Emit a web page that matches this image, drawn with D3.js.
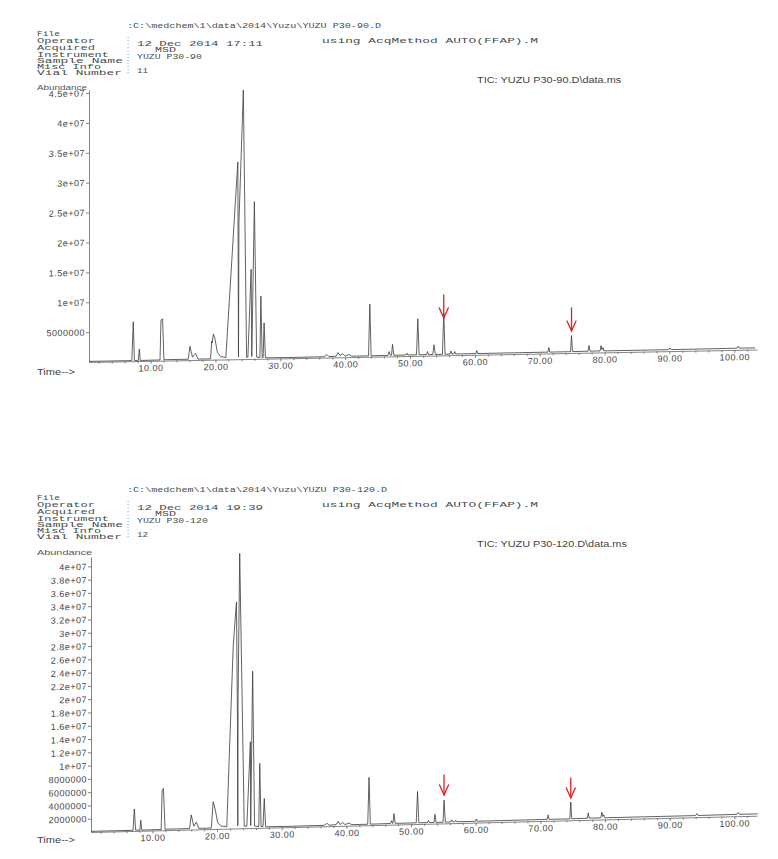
<!DOCTYPE html>
<html><head><meta charset="utf-8">
<script src="https://cdn.jsdelivr.net/npm/d3@7"></script>
<style>body{margin:0;background:#fff}svg{display:block}</style>
</head><body><svg id="c" width="778" height="859"></svg>
<script>
// ---------------- DATA ----------------
const headerLabels = ["File", "Operator", "Acquired", "Instrument", "Sample Name", "Misc Info", "Vial Number"];
const fileTop = ":C:\\medchem\\1\\data\\2014\\Yuzu\\YUZU P30-90.D";
const fileBottom = ":C:\\medchem\\1\\data\\2014\\Yuzu\\YUZU P30-120.D";
const acquiredTop = "12 Dec 2014  17:11";
const acquiredBottom = "12 Dec 2014  19:39";
const methodText = "using AcqMethod AUTO(FFAP).M";
const instrumentText = "MSD";
const sampleTop = "YUZU P30-90";
const sampleBottom = "YUZU P30-120";
const vialTop = "11";
const vialBottom = "12";
const ticTop = "TIC: YUZU P30-90.D\\data.ms";
const ticBottom = "TIC: YUZU P30-120.D\\data.ms";

const timeTicks = [10, 20, 30, 40, 50, 60, 70, 80, 90, 100];
const timeTickLabels = ["10.00", "20.00", "30.00", "40.00", "50.00", "60.00", "70.00", "80.00", "90.00", "100.00"];
const timeMinorTicks = [2,4,6,8,12,14,16,18,22,24,26,28,32,34,36,38,42,44,46,48,52,54,56,58,62,64,66,68,72,74,76,78,82,84,86,88,92,94,96,98,102];

const abundTicksTop = [5e6, 1e7, 1.5e7, 2e7, 2.5e7, 3e7, 3.5e7, 4e7, 4.5e7];
const abundLabelsTop = ["5000000", "1e+07", "1.5e+07", "2e+07", "2.5e+07", "3e+07", "3.5e+07", "4e+07", "4.5e+07"];
const abundTicksBottom = [2e6,4e6,6e6,8e6,1e7,1.2e7,1.4e7,1.6e7,1.8e7,2e7,2.2e7,2.4e7,2.6e7,2.8e7,3e7,3.2e7,3.4e7,3.6e7,3.8e7,4e7];
const abundLabelsBottom = ["2000000","4000000","6000000","8000000","1e+07","1.2e+07","1.4e+07","1.6e+07","1.8e+07","2e+07","2.2e+07","2.4e+07","2.6e+07","2.8e+07","3e+07","3.2e+07","3.4e+07","3.6e+07","3.8e+07","4e+07"];

// TIC trace, [retention time (min), abundance]
const traceTop = [
 [0.5,0.1e6],[7.1,0.1e6],[7.33,6.6e6],[7.5,0.12e6],
 [8.1,0.1e6],[8.26,2.0e6],[8.4,0.1e6],
 [11.45,0.12e6],[11.6,6.8e6],[11.85,7.0e6],[12.05,0.15e6],
 [15.8,0.15e6],[16.07,2.3e6],[16.45,0.5e6],[16.95,1.1e6],[17.3,0.15e6],
 [19.25,0.15e6],[19.42,3.1e6],[19.5,2.8e6],[19.67,4.3e6],[19.9,3.6e6],[20.3,1.2e6],[20.8,0.5e6],[21.3,0.4e6],
 [21.6,0.3e6],[23.45,3.3e7],[23.55,0.4e6],[23.62,2.3e7],[24.3,4.5e7],[24.8,0.3e6],
 [25.0,0.3e6],[25.5,1.5e7],[25.6,0.4e6],[26.0,2.63e7],[26.35,0.3e6],
 [26.85,0.2e6],[27.0,1.05e7],[27.2,0.2e6],[27.35,0.2e6],[27.5,6.0e6],[27.7,0.15e6],
 [31,0.12e6],[36.8,0.15e6],[37.2,0.5e6],[37.5,0.15e6],[38.6,0.2e6],[38.9,0.8e6],[39.2,0.3e6],[39.6,0.6e6],[40.0,0.2e6],[40.6,0.45e6],[41.0,0.15e6],
 [43.6,0.15e6],[43.8,8.8e6],[44.0,0.15e6],
 [46.6,0.18e6],[46.8,0.8e6],[46.95,0.2e6],[47.15,0.2e6],[47.3,2.0e6],[47.5,0.18e6],
 [49.35,0.18e6],[49.5,0.5e6],[49.65,0.18e6],
 [51.0,0.18e6],[51.2,6.2e6],[51.4,0.18e6],
 [52.55,0.18e6],[52.7,0.7e6],[52.85,0.18e6],
 [53.5,0.18e6],[53.7,1.8e6],[53.9,0.18e6],
 [55.0,0.18e6],[55.2,7.0e6],[55.4,0.18e6],
 [56.15,0.2e6],[56.3,0.7e6],[56.45,0.2e6],[56.75,0.2e6],[56.9,0.6e6],[57.05,0.2e6],
 [60.15,0.2e6],[60.3,0.7e6],[60.45,0.2e6],
 [71.25,0.22e6],[71.4,1.0e6],[71.55,0.22e6],
 [74.75,0.22e6],[74.9,2.9e6],[75.05,0.22e6],
 [77.45,0.25e6],[77.6,1.2e6],[77.75,0.25e6],
 [79.3,0.25e6],[79.45,1.15e6],[79.6,0.45e6],[79.75,0.8e6],[79.9,0.25e6],
 [89.9,0.25e6],[90.1,0.55e6],[90.3,0.25e6],
 [100.4,0.28e6],[100.6,0.6e6],[100.8,0.28e6],
 [103.2,0.28e6]
];
const traceBottom = [
 [0.5,0.1e6],[7.0,0.1e6],[7.2,3.3e6],[7.4,0.12e6],
 [8.05,0.1e6],[8.2,1.6e6],[8.35,0.1e6],
 [11.35,0.12e6],[11.5,6.0e6],[11.7,6.3e6],[11.95,0.15e6],
 [15.75,0.15e6],[16.0,2.2e6],[16.4,0.5e6],[16.8,1.1e6],[17.15,0.15e6],
 [19.1,0.15e6],[19.4,4.1e6],[19.7,3.0e6],[20.1,0.9e6],[20.7,0.4e6],
 [21.5,0.3e6],[22.5,2.76e7],[23.0,3.41e7],[23.15,1.6e7],[23.2,0.4e6],[23.25,2.0e7],[23.5,4.14e7],[24.2,0.3e6],
 [24.6,0.3e6],[25.15,1.3e7],[25.2,0.4e6],[25.5,2.36e7],[25.8,0.3e6],
 [26.45,0.2e6],[26.6,9.7e6],[26.8,0.2e6],[27.1,0.2e6],[27.3,4.4e6],[27.5,0.15e6],
 [31,0.12e6],[36.6,0.15e6],[37.0,0.45e6],[37.3,0.15e6],[38.4,0.2e6],[38.7,0.7e6],[39.0,0.2e6],[39.4,0.5e6],[39.8,0.18e6],[40.4,0.4e6],[40.8,0.15e6],
 [43.3,0.15e6],[43.5,7.2e6],[43.7,0.15e6],
 [46.8,0.18e6],[47.0,0.6e6],[47.1,0.2e6],[47.2,0.2e6],[47.35,1.65e6],[47.55,0.18e6],
 [50.8,0.18e6],[51.0,4.9e6],[51.2,0.18e6],
 [52.55,0.18e6],[52.7,0.5e6],[52.85,0.18e6],
 [53.55,0.18e6],[53.7,1.4e6],[53.85,0.18e6],
 [54.95,0.18e6],[55.1,3.5e6],[55.3,0.18e6],
 [56.15,0.2e6],[56.3,0.5e6],[56.45,0.2e6],[56.75,0.2e6],[56.9,0.45e6],[57.05,0.2e6],
 [59.95,0.2e6],[60.1,0.55e6],[60.25,0.2e6],
 [71.05,0.22e6],[71.2,0.9e6],[71.35,0.22e6],
 [74.55,0.22e6],[74.7,2.75e6],[74.85,0.22e6],
 [77.25,0.25e6],[77.4,1.05e6],[77.55,0.25e6],
 [79.35,0.25e6],[79.5,1.1e6],[79.65,0.45e6],[79.8,0.7e6],[79.95,0.25e6],
 [94.0,0.25e6],[94.2,0.55e6],[94.4,0.25e6],
 [100.4,0.28e6],[100.6,0.55e6],[100.8,0.28e6],
 [103.6,0.28e6]
];
// red arrows: [time, abundance at arrow tip]
const arrowsTop = [[55.2, 6.26e6], [74.9, 3.68e6]];
const arrowsBottom = [[55.1, 4.28e6], [74.7, 3.36e6]];

// ---------------- DRAWING ----------------
const svg = d3.select("#c");
const MONO = "'Liberation Mono','DejaVu Sans Mono',monospace";
const SANS = "'Liberation Sans',Arial,sans-serif";
const INK = "#4a4a4a";

function txt(g, x, y, s, len, font, size, fill) {
  const t = g.append("text").attr("x", x).attr("y", y).attr("dy", "0.35em")
    .attr("font-family", font).attr("font-size", size).attr("fill", fill || INK).text(s);
  if (len) t.attr("textLength", len).attr("lengthAdjust", "spacingAndGlyphs");
  return t;
}

function header(oy, file, acquired, sample, vial, tic) {
  const g = svg.append("g");
  const ly = [33, 40, 47, 54, 60, 66, 72];
  const lw = [23, 58, 58, 72, 86, 64, 85];
  headerLabels.forEach((s, i) => txt(g, 37, ly[i] + oy, s, lw[i], MONO, 7.2));
  [1, 2, 3, 4, 5, 6].forEach(i => txt(g, 126, ly[i] + oy - 1, ":", 4, MONO, 7, "#888"));
  txt(g, 127, 25 + oy, file, file.length * 6.05, MONO, 8);
  txt(g, 137, 43 + oy, acquired, acquired.length * 7.0, MONO, 7.5);
  txt(g, 322, 40 + oy, methodText, 216, MONO, 8);
  txt(g, 155, 50 + oy, instrumentText, 21, MONO, 6.5);
  txt(g, 137, 56.5 + oy, sample, sample.length * 5.9, MONO, 7);
  txt(g, 137, 70 + oy, vial, 11, MONO, 7.5);
  txt(g, 477, 80 + oy, tic, tic.length * 5.55, SANS, 8.5, "#444");
}

function panel(cfg) {
  const x = d3.scaleLinear().domain([0.5, cfg.tEnd]).range([cfg.x0, cfg.x1]);
  const y = d3.scaleLinear().domain([0, cfg.vTop]).range([cfg.yBase, cfg.yTop]);
  const slope = Math.tan(-cfg.skew * Math.PI / 180); // screen rise per px to the right

  txt(svg, 37, cfg.abundY, "Abundance", cfg.abundLen, SANS, 6.5, "#555");
  txt(svg, 37, cfg.timeY, "Time-->", 38, SANS, 8.5, "#444");

  const g = svg.append("g")
    .attr("transform", `translate(${cfg.x0},${cfg.yBase}) skewY(${cfg.skew}) translate(${-cfg.x0},${-cfg.yBase})`);

  const ya = g.append("g").attr("transform", `translate(${cfg.x0},0)`)
    .call(d3.axisLeft(y).tickValues(cfg.yTicks).tickFormat((d, i) => cfg.yLabels[i])
      .tickSize(3).tickSizeOuter(0).tickPadding(1));
  const xa = g.append("g").attr("transform", `translate(0,${cfg.yBase})`)
    .call(d3.axisBottom(x).tickValues(timeTicks).tickFormat((d, i) => timeTickLabels[i])
      .tickSize(3).tickSizeOuter(0).tickPadding(1));
  const xm = g.append("g").attr("transform", `translate(0,${cfg.yBase})`)
    .call(d3.axisBottom(x).tickValues(timeMinorTicks).tickFormat("").tickSize(2).tickSizeOuter(0));
  xm.select(".domain").remove();
  [ya, xa, xm].forEach(a => {
    a.selectAll("path,line").attr("stroke", "#666").attr("stroke-width", 0.8);
    a.selectAll("text").attr("font-family", SANS).attr("font-size", 9)
      .attr("letter-spacing", 0.5).attr("fill", "#444");
  });

  g.append("path").datum(cfg.trace)
    .attr("d", d3.line().x(d => x(d[0])).y(d => y(d[1])))
    .attr("fill", "none").attr("stroke", "#3c3c3c").attr("stroke-width", 0.8)
    .attr("stroke-linejoin", "round");

  // red arrows (added on top of the scan, not skewed)
  cfg.arrows.forEach(a => {
    const ax = x(a[0]);
    const ty = y(a[1]) - (ax - cfg.x0) * slope;
    const ag = svg.append("g").attr("stroke", "#e02020").attr("stroke-width", 1.3)
      .attr("fill", "none").attr("stroke-linecap", "round");
    ag.append("line").attr("x1", ax).attr("x2", ax).attr("y1", ty - cfg.arrowLen).attr("y2", ty);
    ag.append("polyline").attr("points", `${ax - 4.5},${ty - 10} ${ax},${ty} ${ax + 4.5},${ty - 10}`);
  });
}

header(0, fileTop, acquiredTop, sampleTop, vialTop, ticTop);
header(464, fileBottom, acquiredBottom, sampleBottom, vialBottom, ticBottom);

panel({x0: 89, x1: 757, tEnd: 103.5, yBase: 362, yTop: 90, vTop: 4.55e7, skew: -1.07,
  yTicks: abundTicksTop, yLabels: abundLabelsTop, trace: traceTop, arrows: arrowsTop,
  abundY: 87.5, abundLen: 50, timeY: 372, arrowLen: 23});
panel({x0: 91, x1: 757, tEnd: 103.5, yBase: 832, yTop: 557, vTop: 4.14e7, skew: -1.4,
  yTicks: abundTicksBottom, yLabels: abundLabelsBottom, trace: traceBottom, arrows: arrowsBottom,
  abundY: 552.5, abundLen: 55, timeY: 840, arrowLen: 20});
</script></body></html>
